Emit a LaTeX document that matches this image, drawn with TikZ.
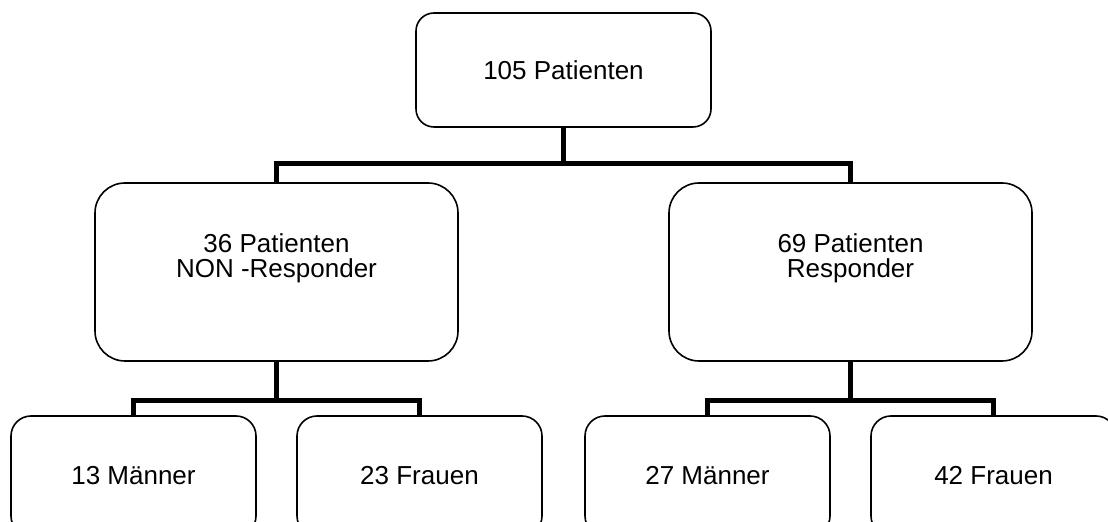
\documentclass[tikz,border=0pt]{standalone}
\usepackage{fontspec}
\setmainfont{Liberation Sans}
\usetikzlibrary{positioning}

\begin{document}
\begin{tikzpicture}[x=0.5pt, y=-0.5pt, node distance=101pt and 143.5pt, on grid,
    txt/.style={font=\fontsize{13}{12.5}\selectfont, align=center},
    box/.style={draw, line width=0.8pt, rounded corners=#1, txt},
    topbox/.style={box=9pt, minimum width=147.5pt, minimum height=57pt},
    midbox/.style={box=15pt, minimum width=181.5pt, minimum height=89pt},
    lowbox/.style={box=10pt, minimum width=122.5pt, minimum height=60pt},
    conn/.style={line width=2.6pt}]
    \useasboundingbox (0,0) rectangle (1108,522);
    \clip (0,0) rectangle (1108,522);

    \node[topbox] (all) at (563.5,70) {105 Patienten};
    \node[midbox] (nonresp) [below left=of all] {};
    \node[midbox] (resp) [below right=of all] {};
    \node[txt] (nonresptext) [above=7pt of nonresp] {36 Patienten\\NON -Responder};
    \node[txt] (resptext) [above=7pt of resp] {69 Patienten\\Responder};

    \node[lowbox] (nonrespmen) [below left=102pt and 71.5pt of nonresp] {13 Männer};
    \node[lowbox] (nonrespwomen) [below right=102pt and 71.5pt of nonresp] {23 Frauen};
    \node[lowbox] (respmen) [below left=102pt and 71.5pt of resp] {27 Männer};
    \node[lowbox] (respwomen) [below right=102pt and 71.5pt of resp] {42 Frauen};

    \draw[conn] (all.south) -- ++(0,36) -| (nonresp.north);
    \draw[conn] (all.south) -- ++(0,36) -| (resp.north);
    \draw[conn] (nonresp.south) -- ++(0,39) -| (nonrespmen.north);
    \draw[conn] (nonresp.south) -- ++(0,39) -| (nonrespwomen.north);
    \draw[conn] (resp.south) -- ++(0,39) -| (respmen.north);
    \draw[conn] (resp.south) -- ++(0,39) -| (respwomen.north);
\end{tikzpicture}
\end{document}
